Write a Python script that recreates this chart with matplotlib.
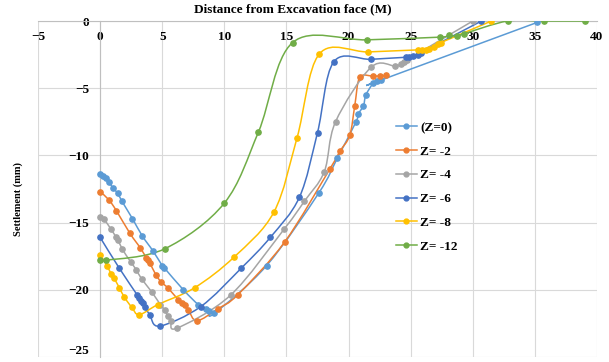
import numpy as np
import matplotlib
matplotlib.use("Agg")
import matplotlib.pyplot as plt
from matplotlib.path import Path
from matplotlib.patches import PathPatch
from matplotlib.lines import Line2D

plt.rcParams['font.family'] = ['Liberation Serif', 'DejaVu Serif']
plt.rcParams['font.weight'] = 'bold'

# --- data (distance m, settlement mm) ---
x_z0 = [0, 0.2, 0.5, 0.75, 1.0, 1.4, 1.75, 2.6, 3.4, 4.25, 5.0, 5.15, 6.7, 7.9, 8.5, 8.8, 9.2,
        13.4, 17.6, 19.1, 20.6, 20.8, 21.2, 21.4, 22.0, 22.3, 22.6, 35.2]
y_z0 = [-11.4, -11.5, -11.7, -12.0, -12.4, -12.8, -13.4, -14.7, -16.0, -17.1, -18.2, -18.35, -20.0,
        -21.1, -21.4, -21.55, -21.75, -18.2, -12.8, -10.2, -7.5, -6.9, -6.3, -5.5, -4.6, -4.5, -4.4, -0.1]

x_z2 = [0, 0.7, 1.3, 2.4, 3.25, 3.7, 3.85, 4.0, 4.5, 4.9, 5.5, 6.3, 6.6, 6.8, 7.1, 7.8, 9.5, 11.1,
        14.85, 18.5, 19.3, 20.1, 20.5, 20.9, 21.95, 22.5, 23.0]
y_z2 = [-12.7, -13.3, -14.1, -15.8, -16.9, -17.6, -17.8, -18.0, -18.9, -19.4, -19.9, -20.75, -20.95,
        -21.15, -21.5, -22.3, -21.4, -20.35, -16.45, -11.0, -9.7, -8.5, -6.3, -4.2, -4.1, -4.1, -4.05]

x_z4 = [0, 0.3, 0.85, 1.3, 1.45, 1.8, 2.45, 2.9, 3.35, 4.15, 4.85, 5.2, 5.45, 5.7, 6.2, 10.5, 14.8,
        16.45, 18.05, 18.95, 21.8, 23.75, 24.2, 24.5, 24.7, 30.0]
y_z4 = [-14.6, -14.75, -15.45, -16.1, -16.3, -17.0, -17.9, -18.5, -19.2, -20.15, -21.1, -21.5, -21.95,
        -22.3, -22.85, -20.4, -15.5, -13.4, -11.2, -7.5, -3.45, -3.35, -3.2, -3.05, -2.9, 0.0]

x_z6 = [0, 1.55, 3.0, 3.15, 3.3, 3.45, 3.6, 4.0, 4.8, 8.1, 11.35, 13.7, 16.05, 17.5, 18.8, 21.8,
        24.6, 24.9, 25.2, 25.6, 25.85, 30.7]
y_z6 = [-16.1, -18.4, -20.4, -20.6, -20.8, -21.0, -21.3, -21.85, -22.7, -21.25, -18.4, -16.1, -13.1,
        -8.3, -3.05, -2.85, -2.7, -2.65, -2.6, -2.5, -2.35, 0.0]

x_z8 = [0, 0.55, 0.9, 1.1, 1.55, 1.95, 2.55, 3.15, 4.65, 7.6, 10.8, 14.0, 15.85, 17.65, 21.6, 25.6,
        25.9, 26.2, 26.5, 26.9, 27.2, 27.45, 31.5]
y_z8 = [-17.4, -18.2, -18.85, -19.1, -19.85, -20.55, -21.3, -21.85, -21.1, -19.85, -17.55, -14.2,
        -8.7, -2.45, -2.3, -2.15, -2.15, -2.15, -2.05, -1.9, -1.7, -1.6, 0.0]

x_z12 = [0, 0.5, 5.2, 10.0, 12.75, 15.5, 21.5, 27.4, 28.05, 28.75, 29.3, 32.8, 35.7, 39.0]
y_z12 = [-17.75, -17.8, -16.95, -13.55, -8.25, -1.6, -1.4, -1.2, -1.05, -1.15, -0.95, 0.0, 0.0, 0.0]

labels = ['(Z=0)', 'Z= -2', 'Z= -4', 'Z= -6', 'Z= -8', 'Z= -12']
colors = ['#5B9BD5', '#ED7D31', '#A5A5A5', '#4472C4', '#FFC000', '#70AD47']
series = [(x_z0, y_z0), (x_z2, y_z2), (x_z4, y_z4), (x_z6, y_z6), (x_z8, y_z8), (x_z12, y_z12)]
x_ticks = list(range(-5, 41, 5))
y_ticks = list(range(-25, 1, 5))


def smooth_path(xs, ys):
    # excel style smoothed line: catmull-rom segments as cubic beziers
    p = np.column_stack([xs, ys]).astype(float)
    n = len(p)
    verts = [p[0]]
    codes = [Path.MOVETO]
    for i in range(n - 1):
        p0 = p[i - 1] if i > 0 else p[i]
        p3 = p[i + 2] if i + 2 < n else p[i + 1]
        c1 = p[i] + (p[i + 1] - p0) / 6
        c2 = p[i + 1] - (p3 - p[i]) / 6
        verts += [c1, c2, p[i + 1]]
        codes += [Path.CURVE4] * 3
    return Path(verts, codes)


fig = plt.figure(figsize=(6.09, 3.62), dpi=100)
ax = fig.add_axes([38 / 609, 5 / 362, 559 / 609, 336 / 362])

for (xs, ys), c in zip(series, colors):
    ax.add_patch(PathPatch(smooth_path(xs, ys), fill=False, edgecolor=c, lw=1.1, zorder=3))
    ax.plot(xs, ys, 'o', ms=3.8, color=c, ls='none', zorder=4)

ax.set_xlim(-5, 40)
ax.set_ylim(-25, 0)
ax.set_xticks(x_ticks)
ax.set_yticks(y_ticks)
ax.grid(color='#d9d9d9', lw=0.8, zorder=0)

for s in ['right', 'bottom']:
    ax.spines[s].set_visible(False)
ax.spines['left'].set_position(('data', 0))
ax.spines['left'].set_color('#bfbfbf')
ax.spines['top'].set_color('#bfbfbf')

ax.xaxis.set_ticks_position('top')
ax.tick_params(axis='x', length=0, pad=-16, labelsize=9.5)
ax.tick_params(axis='y', length=0, pad=8, labelsize=9.5)
# lowest y label sits on the bottom edge, keep it inside the figure
ax.get_yticklabels()[0].set_va('bottom')

handles = [Line2D([], [], color=c, lw=1.1, marker='o', ms=3.5) for c in colors]
ax.legend(handles, labels, loc='upper left', bbox_to_anchor=(0.64, 0.70), frameon=False,
          fontsize=9.5, handlelength=1.6, handletextpad=0.25, labelspacing=0.87,
          borderpad=0, borderaxespad=0)

fig.text(0.48, 0.975, 'Distance from Excavation face (M)', ha='center', va='center',
         fontsize=9.5, fontweight='bold')
fig.text(0.03, 0.45, 'Settlement (mm)', ha='center', va='center', rotation=90,
         fontsize=7.5, fontweight='bold')

fig.savefig('out.png', dpi=100)
